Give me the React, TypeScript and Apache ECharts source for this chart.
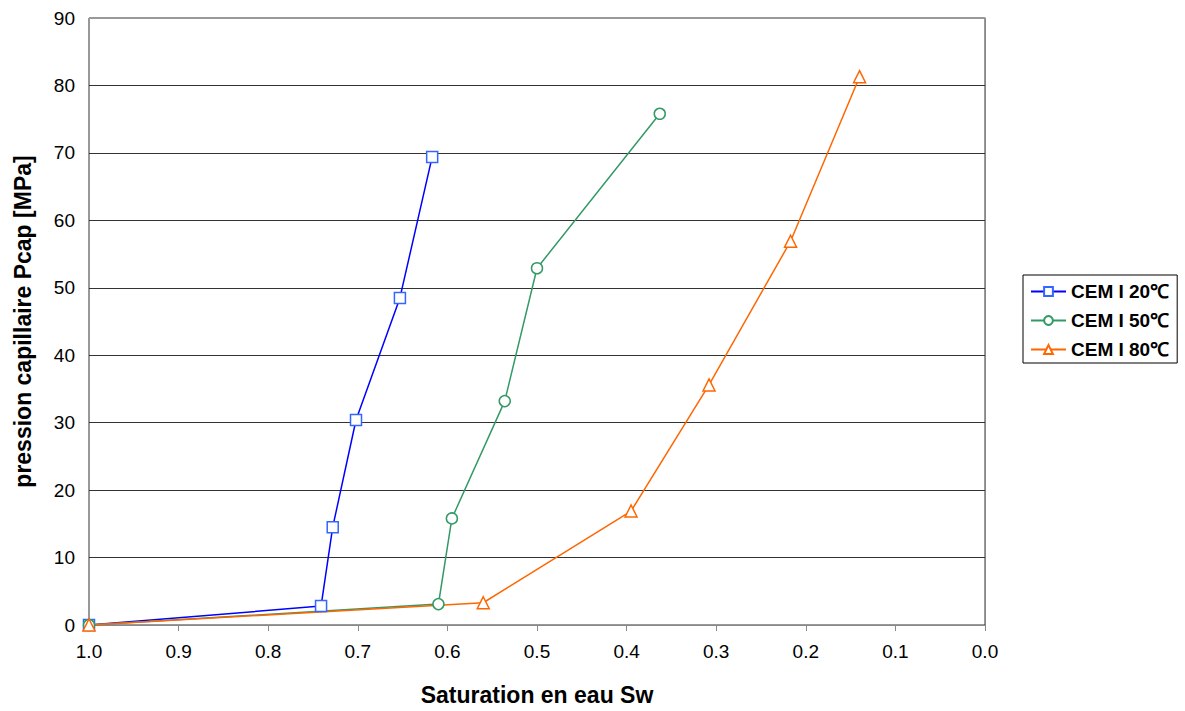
import React, { useEffect, useRef } from "react";
import * as echarts from "echarts";

const seriesNames = ["CEM I 20℃", "CEM I 50℃", "CEM I 80℃"];
const sw20 = [1.0, 0.741, 0.728, 0.702, 0.653, 0.617];
const pc20 = [0, 2.8, 14.5, 30.4, 48.5, 69.4];
const sw50 = [1.0, 0.61, 0.595, 0.536, 0.5, 0.363];
const pc50 = [0, 3.1, 15.8, 33.2, 52.9, 75.8];
const sw80 = [1.0, 0.56, 0.395, 0.308, 0.217, 0.14];
const pc80 = [0, 3.3, 16.9, 35.6, 56.9, 81.3];
const lineColors = ["#0000FF", "#339966", "#FF6600"];
const markerColors = ["#3366FF", "#339966", "#FF6600"];
const symbols = ["rect", "circle", "triangle"];

const pairs = (xs: number[], ys: number[]) => xs.map((x, i) => [x, ys[i]]);

export default function App() {
  const ref = useRef<HTMLDivElement>(null);
  useEffect(() => {
    if (!ref.current) return;
    const chart = echarts.init(ref.current, null, { renderer: "svg" });
    const data = [pairs(sw20, pc20), pairs(sw50, pc50), pairs(sw80, pc80)];
    const font = "Liberation Sans, Arial, sans-serif";
    chart.setOption({
      animation: false,
      textStyle: { fontFamily: font },
      grid: {
        left: 89,
        top: 18,
        right: 200,
        bottom: 86,
        show: true,
        borderColor: "#333",
        borderWidth: 1,
      },
      legend: {
        orient: "vertical",
        left: 1023,
        top: 275,
        borderColor: "#000",
        borderWidth: 1,
        padding: [7, 8, 4, 7],
        itemGap: 10,
        itemWidth: 35,
        itemHeight: 11,
        textStyle: { fontFamily: font, fontWeight: "bold", fontSize: 19, color: "#000", padding: [0, 0, 0, 0] },
        data: seriesNames,
      },
      xAxis: [
        {
          type: "value",
          inverse: true,
          min: 0,
          max: 1,
          interval: 0.1,
          name: "Saturation en eau Sw",
          nameLocation: "middle",
          nameGap: 58,
          nameTextStyle: { fontFamily: font, fontWeight: "bold", fontSize: 23, color: "#000" },
          axisLine: { lineStyle: { color: "#888", width: 1 } },
          axisTick: { show: true, length: 6, lineStyle: { color: "#888" } },
          axisLabel: {
            formatter: (v: number) => v.toFixed(1),
            fontSize: 19,
            color: "#000",
            margin: 17,
            fontFamily: font,
          },
          splitLine: { show: false },
        },
        {
          type: "value",
          position: "top",
          inverse: true,
          min: 0,
          max: 1,
          interval: 0.1,
          axisLine: { show: true, lineStyle: { color: "#999", width: 1 } },
          axisTick: { show: false },
          axisLabel: { show: false },
          splitLine: { show: false },
        },
      ],
      yAxis: {
        type: "value",
        min: 0,
        max: 90,
        interval: 10,
        name: "pression capillaire Pcap [MPa]",
        nameLocation: "middle",
        nameGap: 55,
        nameTextStyle: { fontFamily: font, fontWeight: "bold", fontSize: 23, color: "#000" },
        axisLine: { show: true, lineStyle: { color: "#888", width: 1 } },
        axisTick: { show: false },
        axisLabel: { fontSize: 19, color: "#000", margin: 14, fontFamily: font },
        splitLine: { show: true, lineStyle: { color: "#333", width: 1 } },
      },
      series: seriesNames.map((name, i) => ({
        name,
        type: "line",
        data: data[i],
        symbol: symbols[i],
        symbolSize: i === 2 ? 12 : 11,
        showAllSymbol: true,
        lineStyle: { color: lineColors[i], width: 1.5 },
        itemStyle: { color: "#fff", borderColor: markerColors[i], borderWidth: 1.5 },
        emphasis: { disabled: true },
      })),
    });
    return () => chart.dispose();
  }, []);
  return (
    <div
      ref={ref}
      style={{ position: "fixed", left: 0, top: 0, width: 1185, height: 711, background: "#fff" }}
    />
  );
}
